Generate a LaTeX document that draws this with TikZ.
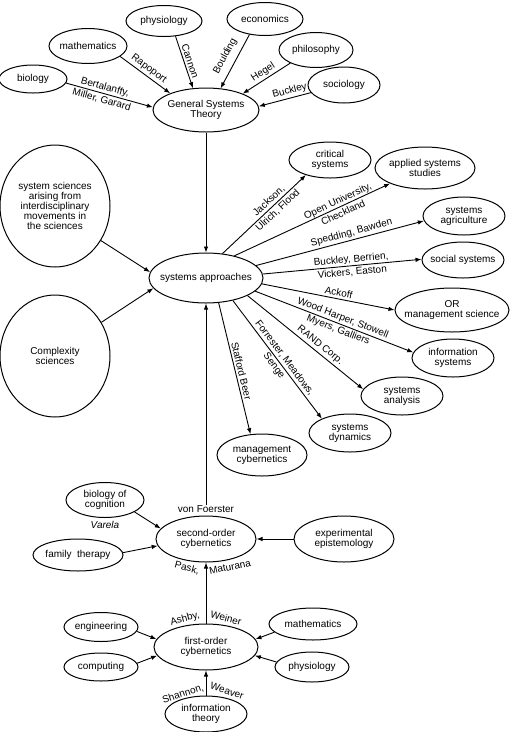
\documentclass[tikz,border=0pt]{standalone}
\usepackage{fontspec}
\setmainfont{Liberation Sans}
\usetikzlibrary{shapes.geometric,arrows.meta}
\begin{document}
\begin{tikzpicture}[x=1pt,y=-1pt,
  ell/.style={draw, ellipse, line width=1pt, inner ysep=0pt, inner xsep=-6pt, align=center, font=\fontsize{10}{10}\selectfont},
  arr/.style={line width=0.9pt, -{Latex[length=6pt,width=4.5pt]}},
  lbl/.style={font=\fontsize{10}{10}\selectfont, inner sep=2pt, align=center, sloped},
  lbltwo/.style={font=\fontsize{10}{13}\selectfont, inner sep=0pt, align=center, sloped},
  free/.style={font=\fontsize{10}{10}\selectfont, inner sep=0pt}]
\useasboundingbox (0,0) rectangle (511,732);
% top group
\node[ell, minimum width=68pt, minimum height=28pt] (bio) at (33,79) {biology};
\node[ell, minimum width=78pt, minimum height=35pt] (mathg) at (88,46) {mathematics};
\node[ell, minimum width=76pt, minimum height=31pt] (physg) at (164,21) {physiology};
\node[ell, minimum width=76pt, minimum height=33pt] (econ) at (265,19) {economics};
\node[ell, minimum width=74pt, minimum height=35pt] (philo) at (316,50) {philosophy};
\node[ell, minimum width=72pt, minimum height=36pt] (socio) at (344,85) {sociology};
\node[ell, minimum width=106pt, minimum height=44pt] (gst) at (206,110) {General Systems\\Theory};
% left circles
\node[ell, minimum width=110pt, minimum height=122pt] (ssci) at (55,206) {system sciences\\arising from\\interdisciplinary\\movements in\\the sciences};
\node[ell, minimum width=110pt, minimum height=122pt] (cplx) at (55,356) {Complexity\\sciences};
% systems approaches
\node[ell, minimum width=114pt, minimum height=50pt] (sa) at (206,278) {systems approaches};
\node[ell, minimum width=82pt, minimum height=36pt] (crit) at (330,160) {critical\\systems};
\node[ell, minimum width=100pt, minimum height=42pt] (appl) at (425,168) {applied systems\\studies};
\node[ell, minimum width=82pt, minimum height=38pt] (agri) at (464,216) {systems\\agriculture};
\node[ell, minimum width=82pt, minimum height=36pt] (soci) at (463,260) {social systems};
\node[ell, minimum width=114pt, minimum height=44pt, inner xsep=-10pt] (orms) at (452,310) {OR\\management science};
\node[ell, minimum width=82pt, minimum height=38pt] (infs) at (453,358) {information\\systems};
\node[ell, minimum width=82pt, minimum height=38pt] (sysan) at (402,396) {systems\\analysis};
\node[ell, minimum width=82pt, minimum height=38pt] (sysdyn) at (350,433) {systems\\dynamics};
\node[ell, minimum width=90pt, minimum height=42pt] (mcyb) at (262,455) {management\\cybernetics};
% second-order
\node[ell, minimum width=78pt, minimum height=35pt] (bioc) at (105,500) {biology of\\cognition};
\node[ell, minimum width=90pt, minimum height=32pt] (famth) at (78,555) {family\ \ therapy};
\node[ell, minimum width=100pt, minimum height=46pt] (soc) at (206,539) {second-order\\cybernetics};
\node[ell, minimum width=100pt, minimum height=46pt] (expep) at (344,539) {experimental\\epistemology};
% first-order
\node[ell, minimum width=74pt, minimum height=29pt] (eng) at (101,627) {engineering};
\node[ell, minimum width=74pt, minimum height=28pt] (comp) at (101,667) {computing};
\node[ell, minimum width=104pt, minimum height=46pt] (foc) at (206,647) {first-order\\cybernetics};
\node[ell, minimum width=88pt, minimum height=32pt] (mathc) at (313,624) {mathematics};
\node[ell, minimum width=74pt, minimum height=30pt] (physc) at (312,667) {physiology};
\node[ell, minimum width=82pt, minimum height=36pt] (info) at (206,714) {information\\theory};
% arrows into GST
\draw[arr] (bio.-7) -- node[lbltwo,pos=0.43]{Bertalanffy,\\Miller, Garard} (gst.177);
\draw[arr] (mathg.-18) -- node[lbl,pos=0.49,above]{Rapoport} (gst.155);
\draw[arr] (physg.-53) -- node[lbl,pos=0.52,above]{Cannon} (gst.121);
\draw[arr] (econ.-135) -- node[lbl,pos=0.5,above=4pt]{Boulding} (gst.56);
\draw[arr] (philo.-153) -- node[lbl,pos=0.49,above]{Hegel} (gst.24);
\draw[arr] (socio.-167) -- node[lbl,pos=0.37,above]{Buckley} (gst.4);
\draw[arr] (gst) -- (sa);
% circles
\draw[arr] (ssci.-37) -- (sa.174);
\draw[arr] (cplx.36) -- (sa.-169);
% outward from SA
\draw[arr] (sa.56) -- node[lbltwo,pos=0.61]{Jackson,\\Ulrich, Flood} (crit.-148);
\draw[arr] (sa.38) -- node[lbltwo,pos=0.68]{Open University,\\Checkland} (appl.-156);
\draw[arr] (sa.14) -- node[lbl,pos=0.58,above]{Spedding, Bawden} (agri.-173);
\draw[arr] (sa.4) -- node[lbltwo,pos=0.56]{Buckley, Berrien,\\Vickers, Easton} (soci.179);
\draw[arr] (sa.-6) -- node[lbl,pos=0.57,above]{Ackoff} (orms.180);
\draw[arr] (sa.-15) -- node[lbltwo,pos=0.54]{Wood Harper, Stowell\\Myers, Galliers} (infs.172);
\draw[arr] (sa.-23) -- node[lbl,pos=0.59,above]{RAND Corp.} (sysan.170);
\draw[arr] (sa.-40) -- node[lbltwo,pos=0.52]{Forrester, Meadows,\\Senge} (sysdyn.153);
\draw[arr] (sa.-63) -- node[lbl,pos=0.53,above]{Stafford Beer} (mcyb.119);
% second-order cybernetics
\node[free] (vf) at (206,509) {von Foerster};
\draw[arr] (vf) -- (sa);
\draw[arr] (bioc.-22) -- (soc.167);
\node[free] (varela) at (105,525) {\itshape Varela};
\draw[arr] (famth.3) -- (soc.-172);
\draw[arr] (expep) -- (soc);
\draw[arr] (foc) -- (soc);
\node[free, rotate=-15] (pask) at (187,568) {Pask,};
\node[free, rotate=12] (matu) at (230,567) {Maturana};
% first-order cybernetics
\node[free, rotate=15] (ashby) at (185,619) {Ashby,};
\node[free, rotate=-15] (weiner) at (226,618) {Weiner};
\draw[arr] (eng.-7) -- (foc.171);
\draw[arr] (comp.6) -- (foc.-170);
\draw[arr] (mathc.-168) -- (foc.9);
\draw[arr] (physc.172) -- (foc.-10);
\draw[arr] (info) -- (foc);
\node[free, rotate=18] (shan) at (183,694) {Shannon,};
\node[free, rotate=-18] (weav) at (227,691) {Weaver};
\end{tikzpicture}
\end{document}
